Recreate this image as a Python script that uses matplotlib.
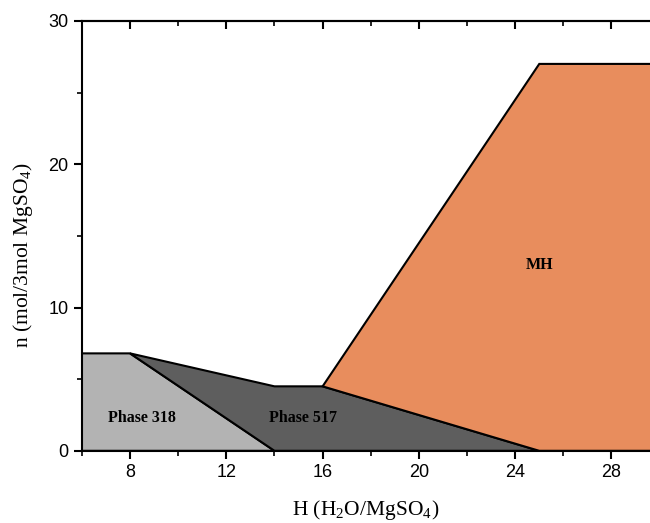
import matplotlib.pyplot as plt
from matplotlib.patches import Polygon
from matplotlib.ticker import MultipleLocator

plt.rcParams['mathtext.fontset'] = 'custom'
plt.rcParams['mathtext.rm'] = 'Liberation Serif'

# phase region outlines (H, n)
phase318_h = [6, 6, 8, 14]
phase318_n = [0, 6.8, 6.8, 0]
phase517_h = [8, 14, 16, 25, 14]
phase517_n = [6.8, 4.5, 4.5, 0, 0]
mh_h = [16, 25, 30, 30, 25]
mh_n = [4.5, 27, 27, 0, 0]

labels = ['Phase 318', 'Phase 517', 'MH']
label_pos = [(8.5, 2.3), (15.2, 2.3), (25.0, 13.0)]
colors = ['#b3b3b3', '#5e5e5e', '#e88d5d']

fig = plt.figure(figsize=(6.5, 5.23), dpi=100)
ax = fig.add_axes([0.126, 0.138, 0.874, 0.822])

regions = [(phase318_h, phase318_n), (phase517_h, phase517_n), (mh_h, mh_n)]
for (h, n), c in zip(regions, colors):
    ax.add_patch(Polygon(list(zip(h, n)), closed=True, facecolor=c,
                         edgecolor='black', linewidth=1.5, joinstyle='miter'))

for txt, (x, y) in zip(labels, label_pos):
    ax.text(x, y, txt, ha='center', va='center', fontsize=11.5,
            fontweight='bold', family='Liberation Serif')

ax.set_xlim(6, 29.6)
ax.set_ylim(0, 30)
ax.spines['right'].set_visible(False)
for s in ['left', 'bottom', 'top']:
    ax.spines[s].set_linewidth(1.5)

ax.xaxis.set_minor_locator(MultipleLocator(2))
ax.set_xticks([8, 12, 16, 20, 24, 28])
ax.yaxis.set_major_locator(MultipleLocator(10))
ax.yaxis.set_minor_locator(MultipleLocator(5))
ax.tick_params(which='major', direction='out', length=6, width=1.5,
               labelsize=13)
ax.tick_params(which='minor', direction='out', length=3.5, width=1.2)
for lab in ax.get_xticklabels() + ax.get_yticklabels():
    lab.set_family('Liberation Sans')

top = ax.secondary_xaxis('top')
top.xaxis.set_minor_locator(MultipleLocator(2))
top.set_xticks([8, 12, 16, 20, 24, 28])
top.tick_params(which='major', direction='in', length=6, width=1.5,
                labeltop=False)
top.tick_params(which='minor', direction='in', length=3.5, width=1.2)
top.spines['top'].set_linewidth(1.5)

ax.set_xlabel('H (H$_2$O/MgSO$_4$)', family='Liberation Serif', fontsize=15.5,
              labelpad=12)
ax.set_ylabel('n (mol/3mol MgSO$_4$)', family='Liberation Serif', fontsize=15.5)
ax.yaxis.set_label_coords(-0.082, 0.455)

fig.savefig('out.png', dpi=100)
